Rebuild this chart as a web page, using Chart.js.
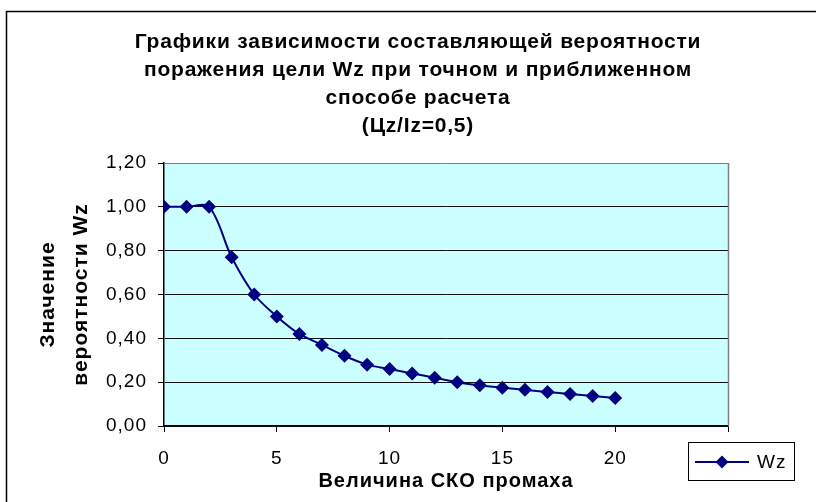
<!DOCTYPE html>
<html lang="ru">
<head>
<meta charset="utf-8">
<title>Wz</title>
<script src="https://cdn.jsdelivr.net/npm/chart.js@4.4.1/dist/chart.umd.min.js"></script>
<style>
  html, body { margin: 0; padding: 0; background: #fff; }
  #wrap { width: 816px; height: 502px; }
</style>
</head>
<body>
<div id="wrap"><canvas id="grafico" width="816" height="502"></canvas></div>
<script>
// ДАННЫЕ
const skoValues = [0, 1, 2, 3, 4, 5, 6, 7, 8, 9, 10, 11, 12, 13, 14, 15, 16, 17, 18, 19, 20];
const wzValues = [1.00, 1.00, 1.00, 0.77, 0.60, 0.50, 0.42, 0.37, 0.32, 0.28, 0.26,
                  0.24, 0.22, 0.20, 0.186, 0.175, 0.165, 0.155, 0.146, 0.137, 0.128];
const xTickLabels = ["0", "5", "10", "15", "20", ""];
const yTickLabels = ["0,00", "0,20", "0,40", "0,60", "0,80", "1,00", "1,20"];

const titleLines = [
  "Графики зависимости составляющей вероятности",
  "поражения цели Wz при точном и приближенном",
  "способе расчета",
  "(Цz/Iz=0,5)"
];
const seriesName = "Wz";

const FONT = "'Liberation Sans', Arial, sans-serif";
const NAVY = "#000080";

// фон области построения + разрядка текста осей
const fundoPlugin = {
  id: "fundo",
  beforeDraw(chart) {
    const { ctx, chartArea: a } = chart;
    ctx.save();
    ctx.fillStyle = "#ccffff";
    ctx.fillRect(a.left, a.top, a.right - a.left, a.bottom - a.top);
    ctx.restore();
    ctx.letterSpacing = "1px";
  },
  afterDatasetsDraw(chart) {
    const { ctx, chartArea: a } = chart;
    ctx.save();
    // правая граница области построения
    ctx.strokeStyle = "#808080";
    ctx.lineWidth = 1.5;
    ctx.beginPath();
    ctx.moveTo(Math.round(a.right) + 0.5, a.top);
    ctx.lineTo(Math.round(a.right) + 0.5, a.bottom);
    ctx.stroke();
    ctx.restore();
  }
};

// рамка, заголовок и легенда
const textoPlugin = {
  id: "texto",
  afterDraw(chart) {
    const ctx = chart.ctx;
    ctx.save();

    ctx.strokeStyle = "#000";
    ctx.lineWidth = 1.5;
    ctx.strokeRect(6.5, 11.5, 900, 600);

    ctx.fillStyle = "#000";
    ctx.font = "bold 21px " + FONT;
    ctx.textAlign = "center";
    ctx.textBaseline = "alphabetic";
    ctx.letterSpacing = "0.8px";
    titleLines.forEach((linha, i) => {
      ctx.fillText(linha, 418, 48 + i * 28);
    });

    // легенда
    ctx.fillStyle = "#fff";
    ctx.fillRect(688.5, 442.5, 106, 38);
    ctx.strokeStyle = "#000";
    ctx.lineWidth = 1;
    ctx.strokeRect(688.5, 442.5, 106, 38);

    ctx.strokeStyle = NAVY;
    ctx.lineWidth = 2;
    ctx.beginPath();
    ctx.moveTo(695, 462);
    ctx.lineTo(749, 462);
    ctx.stroke();

    ctx.fillStyle = NAVY;
    ctx.beginPath();
    ctx.moveTo(722, 455.5);
    ctx.lineTo(728.5, 462);
    ctx.lineTo(722, 468.5);
    ctx.lineTo(715.5, 462);
    ctx.closePath();
    ctx.fill();

    ctx.fillStyle = "#000";
    ctx.font = "19px " + FONT;
    ctx.letterSpacing = "1px";
    ctx.textAlign = "left";
    ctx.textBaseline = "middle";
    ctx.fillText(seriesName, 757, 463);

    ctx.restore();
    ctx.letterSpacing = "0px";
  }
};

const pontos = skoValues.map((x, i) => ({ x: x, y: wzValues[i] }));

const grafico = new Chart(document.querySelector("#grafico"), {
  type: "scatter",
  data: {
    datasets: [
      {
        label: seriesName,
        data: pontos,
        showLine: true,
        borderColor: NAVY,
        borderWidth: 2,
        tension: 0.33,
        pointStyle: "rectRot",
        pointRadius: 7,
        pointHoverRadius: 7,
        pointBackgroundColor: NAVY,
        pointBorderColor: NAVY,
        pointBorderWidth: 0
      }
    ]
  },
  options: {
    responsive: false,
    animation: false,
    events: [],
    layout: { padding: { left: 0, top: 163, right: 88, bottom: 0 } },
    plugins: {
      legend: { display: false },
      title: { display: false },
      tooltip: { enabled: false }
    },
    scales: {
      x: {
        type: "linear",
        min: 0,
        max: 25,
        afterFit: (s) => { s.height = 76; },
        ticks: {
          stepSize: 5,
          padding: 15,
          color: "#000",
          font: { family: FONT, size: 19 },
          callback: (v) => xTickLabels[Math.round(v / 5)]
        },
        grid: { drawOnChartArea: false, drawTicks: true, tickLength: 6, color: "#000" },
        border: { display: true, color: "#000", width: 1.5 },
        title: {
          display: true,
          text: "Величина СКО промаха",
          color: "#000",
          font: { family: FONT, size: 20, weight: "bold" },
          padding: { top: 0, bottom: 9 }
        }
      },
      y: {
        type: "linear",
        min: 0,
        max: 1.2,
        afterFit: (s) => { s.width = 164; },
        ticks: {
          stepSize: 0.2,
          padding: 11,
          color: "#000",
          font: { family: FONT, size: 19 },
          callback: (v) => yTickLabels[Math.round(v / 0.2)]
        },
        grid: {
          color: (c) => (c.tick && c.tick.value > 1.19 ? "#808080" : "#111"),
          tickColor: "#000",
          lineWidth: 1,
          tickLength: 6
        },
        border: { display: true, color: "#000", width: 1.5 },
        title: {
          display: true,
          text: ["Значение", "вероятности Wz"],
          color: "#000",
          font: { family: FONT, size: 21, weight: "bold", lineHeight: 1.55 },
          padding: { top: 32, bottom: 0 }
        }
      }
    }
  },
  plugins: [fundoPlugin, textoPlugin]
});
</script>
</body>
</html>
